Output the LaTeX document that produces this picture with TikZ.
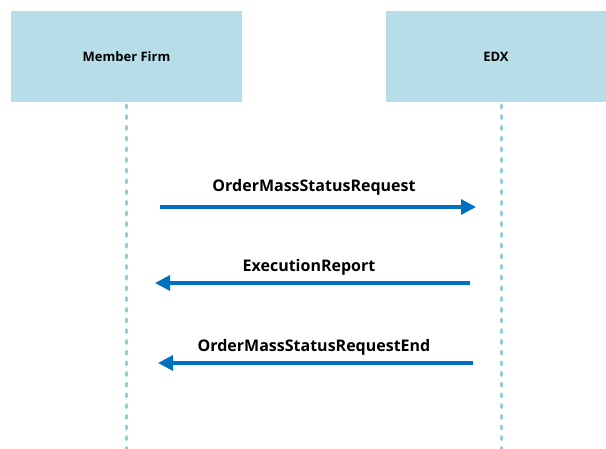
\documentclass[tikz,border=0pt]{standalone}
\usepackage{fontspec}
\setmainfont{Open Sans}
\usetikzlibrary{arrows.meta}
\definecolor{boxfill}{HTML}{B7DDE8}
\definecolor{lifecol}{HTML}{92CDDC}
\definecolor{msgcol}{HTML}{0070C0}
\tikzset{
  actor/.style={draw=none, fill=boxfill, minimum width=#1, minimum height=91pt, inner sep=0pt, font=\bfseries\fontsize{13}{15}\selectfont},
  lifeline/.style={draw=lifecol, line width=3pt, line cap=round, dash pattern=on 3pt off 7.7pt},
  msg/.style={draw=msgcol, line width=3.2pt, -{Triangle[length=15pt,width=15pt]}},
  msglabel/.style={font=\bfseries\fontsize{16}{19}\selectfont, inner sep=0pt}
}
\begin{document}
\begin{tikzpicture}[x=1pt,y=-1pt]
\useasboundingbox (0,0) rectangle (606,449);
\node[actor=231pt] (mf) at (126.5,56.5) {Member Firm};
\node[actor=220pt] (edx) at (496,56.5) {EDX};
\coordinate (mfend) at (126.5,449);
\coordinate (edxend) at (501,449);
\coordinate (mftop) at (126.5,105);
\coordinate (edxtop) at (501,105);
\draw[lifeline] (mftop) -- (mfend);
\draw[lifeline] (edxtop) -- (edxend);
\coordinate (a1s) at (160,207);
\coordinate (a1e) at (476,207);
\coordinate (a2s) at (470,283);
\coordinate (a2e) at (155,283);
\coordinate (a3s) at (473,363);
\coordinate (a3e) at (158,363);
\draw[msg] (a1s) -- (a1e);
\draw[msg] (a2s) -- (a2e);
\draw[msg] (a3s) -- (a3e);
\node[msglabel] (l1) at (314,187) {OrderMassStatusRequest};
\node[msglabel] (l2) at (309,267) {ExecutionReport};
\node[msglabel] (l3) at (314,347) {OrderMassStatusRequestEnd};
\end{tikzpicture}
\end{document}
